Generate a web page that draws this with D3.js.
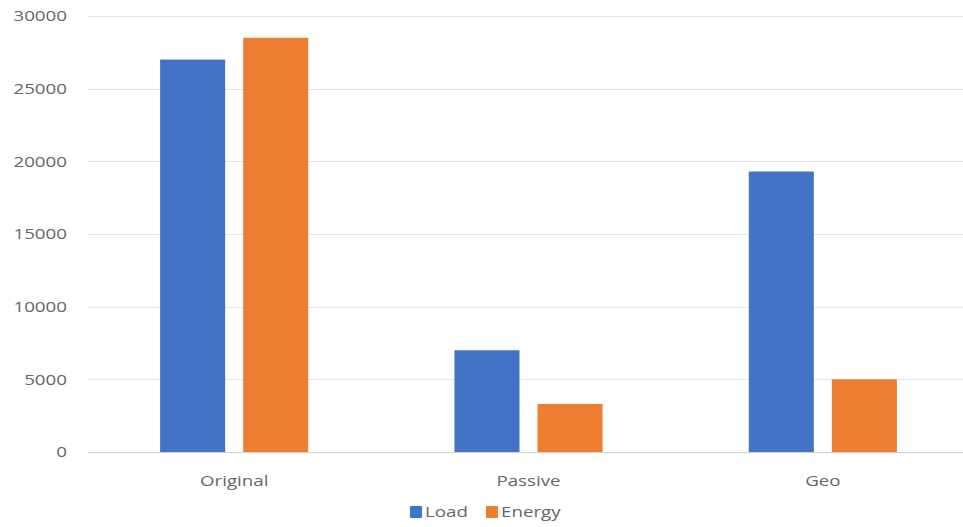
<!DOCTYPE html>
<html lang="en">
<head>
  <meta charset="UTF-8">
  <title>Load vs Energy</title>
  <script src="https://cdn.jsdelivr.net/npm/d3@7"></script>
  <style>
    body { margin: 0; background: #fff; }
    svg { display: block; }
    text { font-family: "Open Sans", sans-serif; fill: #666; }
  </style>
</head>
<body>
  <div id="chart"></div>
  <script>
    const categories = ['Original', 'Passive', 'Geo']
    const seriesNames = ['Load', 'Energy']
    const loadValues = [27000, 7000, 19300]
    const energyValues = [28500, 3300, 5000]
    const yTicks = [0, 5000, 10000, 15000, 20000, 25000, 30000]
    const colors = ['#4472C4', '#ED7D31']

    const width = 963
    const height = 527
    const textScale = 'scale(1.25,1)'

    const svg = d3.select('#chart')
      .append('svg')
      .attr('width', width)
      .attr('height', height)

    const x0 = d3.scaleBand()
      .domain(categories)
      .range([87, 970])

    const x1 = d3.scaleBand()
      .domain(seriesNames)
      .range([0, x0.bandwidth()])
      .paddingInner(0.217)
      .paddingOuter(0.88)

    const y = d3.scaleLinear()
      .domain([0, 30000])
      .range([452, 16])

    const color = d3.scaleOrdinal().domain(seriesNames).range(colors)

    // gridlines
    svg.append('g')
      .selectAll('line')
      .data(yTicks)
      .enter()
      .append('line')
      .attr('x1', 88)
      .attr('x2', width)
      .attr('y1', d => Math.round(y(d)) + 0.5)
      .attr('y2', d => Math.round(y(d)) + 0.5)
      .attr('stroke', d => d === 0 ? '#d0d0d0' : '#e3e3e3')
      .attr('stroke-width', 1)

    // y tick labels
    svg.append('g')
      .selectAll('g')
      .data(yTicks)
      .enter()
      .append('g')
      .attr('transform', d => `translate(67, ${y(d)})`)
      .append('text')
      .attr('transform', textScale)
      .attr('text-anchor', 'end')
      .attr('dy', '0.35em')
      .style('font-size', '15px')
      .text(d => d)

    // bars
    const rows = categories.map((c, i) => ({ cat: c, values: [loadValues[i], energyValues[i]] }))

    svg.append('g')
      .selectAll('g')
      .data(rows)
      .enter()
      .append('g')
      .attr('transform', d => `translate(${x0(d.cat)}, 0)`)
      .selectAll('rect')
      .data(d => d.values.map((v, j) => ({ key: seriesNames[j], value: v })))
      .enter()
      .append('rect')
      .attr('x', d => x1(d.key))
      .attr('width', x1.bandwidth())
      .attr('y', d => y(d.value))
      .attr('height', d => y(0) - y(d.value))
      .attr('fill', d => color(d.key))

    // x labels
    svg.append('g')
      .selectAll('g')
      .data(categories)
      .enter()
      .append('g')
      .attr('transform', d => `translate(${x0(d) + x0.bandwidth() / 2}, 481)`)
      .append('text')
      .attr('transform', textScale)
      .attr('text-anchor', 'middle')
      .attr('dy', '0.35em')
      .style('font-size', '15px')
      .text(d => d)

    // legend
    const legendX = [410, 486]
    const legend = svg.append('g')
      .selectAll('g')
      .data(seriesNames)
      .enter()
      .append('g')
      .attr('transform', (d, i) => `translate(${legendX[i]}, 512)`)

    legend.append('rect')
      .attr('x', 0)
      .attr('y', -6)
      .attr('width', 12)
      .attr('height', 12)
      .attr('fill', d => color(d))

    legend.append('g')
      .attr('transform', 'translate(15, 0)')
      .append('text')
      .attr('transform', textScale)
      .attr('dy', '0.35em')
      .style('font-size', '15px')
      .text(d => d)
  </script>
</body>
</html>
